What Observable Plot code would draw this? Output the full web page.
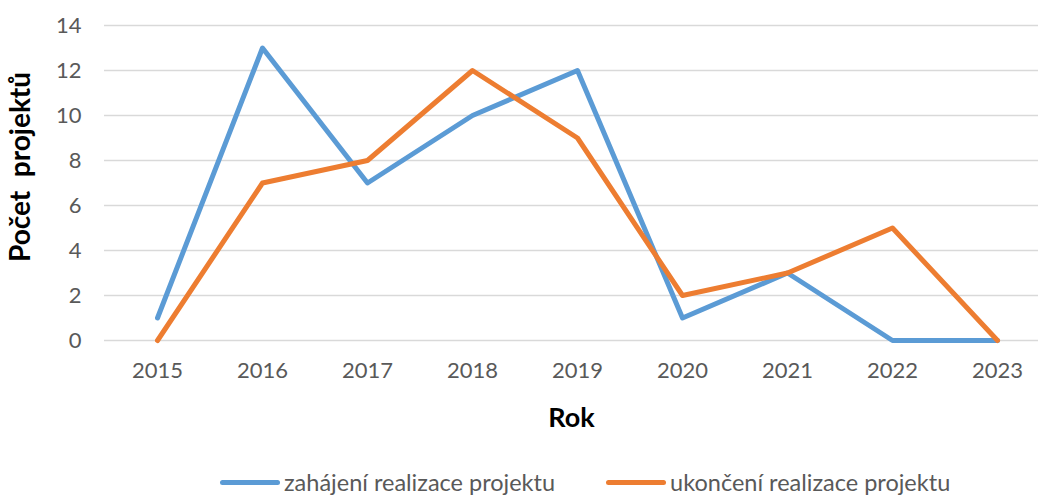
<!DOCTYPE html>
<html><head><meta charset="utf-8">
<script src="https://cdn.jsdelivr.net/npm/d3@7"></script>
<script src="https://cdn.jsdelivr.net/npm/@observablehq/plot@0.6"></script>
<style>
body{margin:0;background:#fff;font-family:Lato,"Open Sans",sans-serif;}
#chart{position:relative;width:1038px;height:495px;overflow:hidden;}
#legend{position:absolute;top:468px;left:220px;display:flex;align-items:center;gap:51px;font-size:23.5px;color:#595959;white-space:nowrap;}
#legend .item{display:flex;align-items:center;gap:4px;}
#legend .sw{display:inline-block;width:60px;height:5px;border-radius:3px;}
</style></head>
<body><div id="chart"></div>
<script>
const years = ["2015","2016","2017","2018","2019","2020","2021","2022","2023"];
const zahajeni = [1,13,7,10,12,1,3,0,0];
const ukonceni = [0,7,8,12,9,2,3,5,0];
const seriesNames = ["zahájení realizace projektu","ukončení realizace projektu"];
const seriesColors = ["#5B9BD5","#ED7D31"];
const yTicks = [0,2,4,6,8,10,12,14];
const xTitle = "Rok";
const yTitle = "Počet  projektů";

const data = [
  ...years.map((y,i)=>({year:y, value:zahajeni[i], series:seriesNames[0]})),
  ...years.map((y,i)=>({year:y, value:ukonceni[i], series:seriesNames[1]}))
];

const plot = Plot.plot({
  width:1038, height:450,
  marginLeft:104, marginRight:0, marginTop:25, marginBottom:110,
  style:{fontFamily:"Lato", fontSize:"22px", color:"#595959", background:"#fff", overflow:"visible"},
  x:{type:"point", domain:years, range:[157,997], padding:0},
  y:{domain:[0,14]},
  color:{domain:seriesNames, range:seriesColors},
  marks:[
    Plot.gridY(yTicks,{stroke:"#d9d9d9", strokeOpacity:1, strokeWidth:1.5}),
    Plot.axisY(yTicks,{tickSize:0, tickPadding:23, label:yTitle, labelAnchor:"center", labelArrow:"none", labelOffset:94}),
    Plot.axisX({tickSize:0, tickPadding:22, label:xTitle, labelAnchor:"center", labelArrow:"none", labelOffset:86}),
    Plot.line(data,{x:"year", y:"value", z:"series", stroke:"series", strokeWidth:5, strokeLinecap:"round", strokeLinejoin:"round"})
  ]
});
d3.select(plot).selectAll('g[aria-label="x-axis label"] text')
  .attr("font-weight","bold").attr("font-size","27px").attr("fill","#000");
d3.select(plot).selectAll('g[aria-label="y-axis label"] text')
  .attr("font-weight","bold").attr("font-size","28px").attr("fill","#000").attr("dx","16").style("white-space","pre");

const chart = document.getElementById("chart");
chart.appendChild(plot);
const legend = d3.select(chart).append("div").attr("id","legend");
seriesNames.forEach((n,i)=>{
  const it = legend.append("div").attr("class","item");
  it.append("span").attr("class","sw").style("background",seriesColors[i]);
  it.append("span").text(n);
});
</script>
</body></html>
